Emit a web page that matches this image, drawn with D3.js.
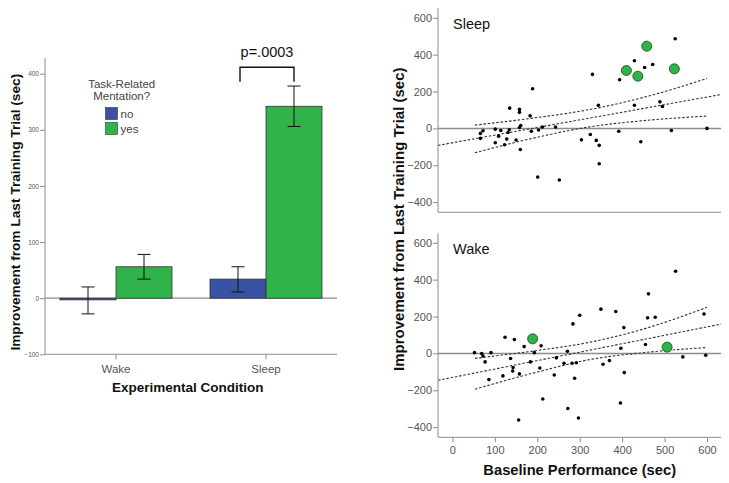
<!DOCTYPE html>
<html>
<head>
<meta charset="utf-8">
<script src="https://cdn.jsdelivr.net/npm/d3@7"></script>
<style>
  html, body { margin: 0; padding: 0; background: #fff; }
  svg { display: block; }
  text { font-family: "Liberation Sans", Arial, sans-serif; }
</style>
</head>
<body>
<svg id="chart" width="729" height="483"></svg>
<script>
// ---------- Data: bar chart ----------
const conditions = ["Wake", "Sleep"];
const mentation = ["no", "yes"];
const barMeans = { Wake: [-3, 56], Sleep: [34, 342] };
const barErrLow = { Wake: [-28, 34], Sleep: [11, 306] };
const barErrHigh = { Wake: [20, 78], Sleep: [56, 378] };
const barTicks = [-100, 0, 100, 200, 300, 400];
const pLabel = "p=.0003";

// ---------- Data: scatter Sleep ----------
const sleepX = [66, 72, 66, 101, 101, 109, 114, 123, 128, 131, 134, 135, 150, 158, 158, 160, 158, 161, 183, 189, 186, 203, 201, 212, 243, 252, 304, 325, 330, 339, 344, 346, 346, 392, 394, 429, 429, 444, 453, 472, 489, 495, 516, 525, 600];
const sleepY = [-27, -13, -54, -4, -78, -42, -11, -89, -58, -22, -7, 110, -63, 103, 87, -114, 5, 16, 68, 215, -15, -9, -264, 7, 7, -280, -62, -33, 293, -65, 125, -92, -192, -15, 264, 367, 126, -72, 330, 347, 144, 119, -11, 486, 0];
const sleepGreenX = [410, 437, 458, 523];
const sleepGreenY = [314, 283, 446, 323];

// ---------- Data: scatter Wake ----------
const wakeX = [52, 69, 72, 77, 91, 86, 119, 124, 137, 143, 142, 146, 158, 156, 169, 184, 193, 206, 209, 213, 240, 245, 263, 271, 272, 284, 282, 288, 292, 297, 300, 350, 355, 370, 385, 396, 397, 404, 405, 455, 460, 462, 478, 526, 543, 593, 597];
const wakeY = [4, -1, -14, -46, 4, -142, -122, 88, -28, -77, -95, 75, -111, -361, 37, -46, 4, -79, 41, -247, -117, -24, -53, 12, -299, 160, -53, -135, -51, -350, 207, 240, -59, -39, 227, -269, 28, 140, -104, 48, 193, 323, 196, 446, -19, 214, -10];
const wakeGreenX = [189, 506];
const wakeGreenY = [79, 34];

// ---------- Fit lines and confidence bands ----------
const fitX = [-34, 633];
const sleepFitY = [-92, 184];
const wakeFitY = [-146, 159];
const bandX = [53, 200, 325, 450, 600];
const sleepUpper = [18, 59, 103, 168, 271];
const sleepLower = [-132, -48, 9, 42, 67];
const wakeUpper = [-27, 16, 61, 132, 250];
const wakeLower = [-194, -101, -33, 4, 32];

const scatterXTicks = [0, 100, 200, 300, 400, 500, 600];
const scatterYTicks = [-400, -200, 0, 200, 400, 600];

// ---------- Styles ----------
const BLUE = "#3953a4", GREEN = "#2fb34a";
const AXIS = "#8c8c8c", TICKTXT = "#555";

const svg = d3.select("#chart");

// ================= LEFT BAR CHART =================
const xL = d3.scaleBand().domain(conditions).range([45, 337]).paddingInner(0.2533).paddingOuter(0.1);
const xSub = d3.scaleBand().domain(mentation).range([0, xL.bandwidth()]);
const yL = d3.scaleLinear().domain([-100, 428]).range([354.3, 58]);
const colors = d3.scaleOrdinal().domain(mentation).range([BLUE, GREEN]);

const gL = svg.append("g");

// zero line
gL.append("line").attr("x1", 45).attr("x2", 337).attr("y1", yL(0)).attr("y2", yL(0))
  .attr("stroke", AXIS).attr("stroke-width", 1.2);

// bars
conditions.forEach(c => {
  mentation.forEach((m, i) => {
    const v = barMeans[c][i];
    const x0 = xL(c) + xSub(m);
    gL.append("rect")
      .attr("x", x0).attr("width", xSub.bandwidth())
      .attr("y", yL(Math.max(0, v))).attr("height", Math.abs(yL(v) - yL(0)))
      .attr("fill", colors(m)).attr("stroke", "#333").attr("stroke-width", 0.8);
  });
});
// error bars
conditions.forEach(c => {
  mentation.forEach((m, i) => {
    const cx = xL(c) + xSub(m) + xSub.bandwidth() / 2;
    const lo = yL(barErrLow[c][i]), hi = yL(barErrHigh[c][i]);
    const g = gL.append("g").attr("stroke", "#111").attr("stroke-width", 1);
    g.append("line").attr("x1", cx).attr("x2", cx).attr("y1", lo).attr("y2", hi);
    g.append("line").attr("x1", cx - 6.5).attr("x2", cx + 6.5).attr("y1", lo).attr("y2", lo);
    g.append("line").attr("x1", cx - 6.5).attr("x2", cx + 6.5).attr("y1", hi).attr("y2", hi);
  });
});

// y axis
const yAxisL = d3.axisLeft(yL).tickValues(barTicks).tickSize(5).tickPadding(1);
const gyL = gL.append("g").attr("transform", "translate(45,0)").call(yAxisL);
gyL.select(".domain").attr("stroke", AXIS).attr("d", `M0,${yL.range()[0]}V${yL.range()[1]}`);
gyL.selectAll(".tick line").attr("stroke", AXIS);
gyL.selectAll(".tick text").attr("fill", TICKTXT).style("font-size", "6.5px");

// x axis
const xAxisL = d3.axisBottom(xL).tickSize(5).tickPadding(6);
const gxL = gL.append("g").attr("transform", `translate(0,${yL(-100)})`).call(xAxisL);
gxL.select(".domain").attr("stroke", AXIS).attr("d", "M45,0H337");
gxL.selectAll(".tick line").attr("stroke", AXIS);
gxL.selectAll(".tick text").attr("fill", TICKTXT).style("font-size", "11.5px");

// labels
gL.append("text").attr("x", 187.7).attr("y", 391.5).attr("text-anchor", "middle")
  .style("font-size", "13.5px").style("font-weight", "bold").attr("fill", "#111").text("Experimental Condition");
gL.append("text").attr("transform", "translate(20,212.2) rotate(-90)").attr("text-anchor", "middle")
  .style("font-size", "13.7px").style("font-weight", "bold").attr("fill", "#111").text("Improvement from Last Training Trial (sec)");

// significance bracket
const bx1 = xL("Sleep") + xSub("no") + xSub.bandwidth() / 2 + 2;
const bx2 = xL("Sleep") + xSub("yes") + xSub.bandwidth() / 2;
gL.append("path").attr("d", `M${bx1},81.7V67.3H${bx2}V81.7`).attr("fill", "none")
  .attr("stroke", "#111").attr("stroke-width", 1.4);
gL.append("text").attr("x", (bx1 + bx2) / 2).attr("y", 57).attr("text-anchor", "middle")
  .style("font-size", "14.5px").attr("fill", "#111").text(pLabel);

// legend
gL.append("text").attr("x", 121.7).attr("y", 88.3).attr("text-anchor", "middle")
  .style("font-size", "11.5px").attr("fill", "#444").text("Task-Related");
gL.append("text").attr("x", 121.7).attr("y", 99.5).attr("text-anchor", "middle")
  .style("font-size", "11.5px").attr("fill", "#444").text("Mentation?");
mentation.forEach((m, i) => {
  const y0 = 107.5 + i * 15;
  gL.append("rect").attr("x", 105.5).attr("y", y0).attr("width", 12).attr("height", 12)
    .attr("fill", colors(m)).attr("stroke", "#333").attr("stroke-width", 0.6);
  gL.append("text").attr("x", 120.5).attr("y", y0 + 10.5)
    .style("font-size", "11.5px").attr("fill", "#444").text(m);
});

// ================= RIGHT SCATTER PANELS =================
const xR = d3.scaleLinear().domain([-34, 633]).range([438, 721]);

function panel(rangeY, title, xs, ys, gx, gy, fitY, upper, lower, showXAxisTicks) {
  const y = d3.scaleLinear().domain([-455, 652]).range(rangeY);
  const g = svg.append("g");

  // zero line
  g.append("line").attr("x1", xR(-34)).attr("x2", xR(633)).attr("y1", y(0)).attr("y2", y(0))
    .attr("stroke", AXIS).attr("stroke-width", 1.5);

  // fit line and bands
  const line = d3.line().x(d => xR(d[0])).y(d => y(d[1])).curve(d3.curveMonotoneX);
  const dashStyle = p => p.attr("fill", "none").attr("stroke", "#333").attr("stroke-width", 1.1).attr("stroke-dasharray", "2.5,1.8");
  g.append("path").attr("d", line(fitX.map((v, i) => [v, fitY[i]]))).call(dashStyle);
  g.append("path").attr("d", line(bandX.map((v, i) => [v, upper[i]]))).call(dashStyle);
  g.append("path").attr("d", line(bandX.map((v, i) => [v, lower[i]]))).call(dashStyle);

  // points
  g.selectAll("circle.pt").data(xs.map((v, i) => [v, ys[i]])).enter().append("circle")
    .attr("class", "pt").attr("cx", d => xR(d[0])).attr("cy", d => y(d[1])).attr("r", 1.8).attr("fill", "#000");
  g.selectAll("circle.gp").data(gx.map((v, i) => [v, gy[i]])).enter().append("circle")
    .attr("class", "gp").attr("cx", d => xR(d[0])).attr("cy", d => y(d[1])).attr("r", 5)
    .attr("fill", GREEN).attr("stroke", "#1d5a25").attr("stroke-width", 0.9);

  // y axis
  const gy2 = g.append("g").attr("transform", "translate(438,0)")
    .call(d3.axisLeft(y).tickValues(scatterYTicks).tickSize(5).tickPadding(1));
  gy2.select(".domain").attr("stroke", AXIS).attr("d", `M0,${rangeY[0]}V${rangeY[1]}`);
  gy2.selectAll(".tick line").attr("stroke", AXIS);
  gy2.selectAll(".tick text").attr("fill", TICKTXT).style("font-size", "11px");

  // x axis
  const gx2 = g.append("g").attr("transform", `translate(0,${rangeY[0]})`);
  if (showXAxisTicks) {
    gx2.call(d3.axisBottom(xR).tickValues(scatterXTicks).tickSize(5).tickPadding(4));
    gx2.selectAll(".tick line").attr("stroke", AXIS);
    gx2.selectAll(".tick text").attr("fill", TICKTXT).style("font-size", "11px");
    gx2.select(".domain").attr("stroke", AXIS).attr("d", `M438,0H721`);
  } else {
    gx2.append("line").attr("x1", 438).attr("x2", 721).attr("y1", 0).attr("y2", 0).attr("stroke", AXIS);
  }

  // title
  g.append("text").attr("x", 453).attr("y", rangeY[1] + 20.3).style("font-size", "14.5px")
    .attr("fill", "#111").text(title);
}

panel([212.3, 8.2], "Sleep", sleepX, sleepY, sleepGreenX, sleepGreenY, sleepFitY, sleepUpper, sleepLower, false);
panel([437.3, 233.2], "Wake", wakeX, wakeY, wakeGreenX, wakeGreenY, wakeFitY, wakeUpper, wakeLower, true);

svg.append("text").attr("transform", "translate(404,219.2) rotate(-90)").attr("text-anchor", "middle")
  .style("font-size", "15px").style("font-weight", "bold").attr("fill", "#111").text("Improvement from Last Training Trial (sec)");
svg.append("text").attr("x", 579.7).attr("y", 474.5).attr("text-anchor", "middle")
  .style("font-size", "14.7px").style("font-weight", "bold").attr("fill", "#111").text("Baseline Performance (sec)");
</script>
</body>
</html>
